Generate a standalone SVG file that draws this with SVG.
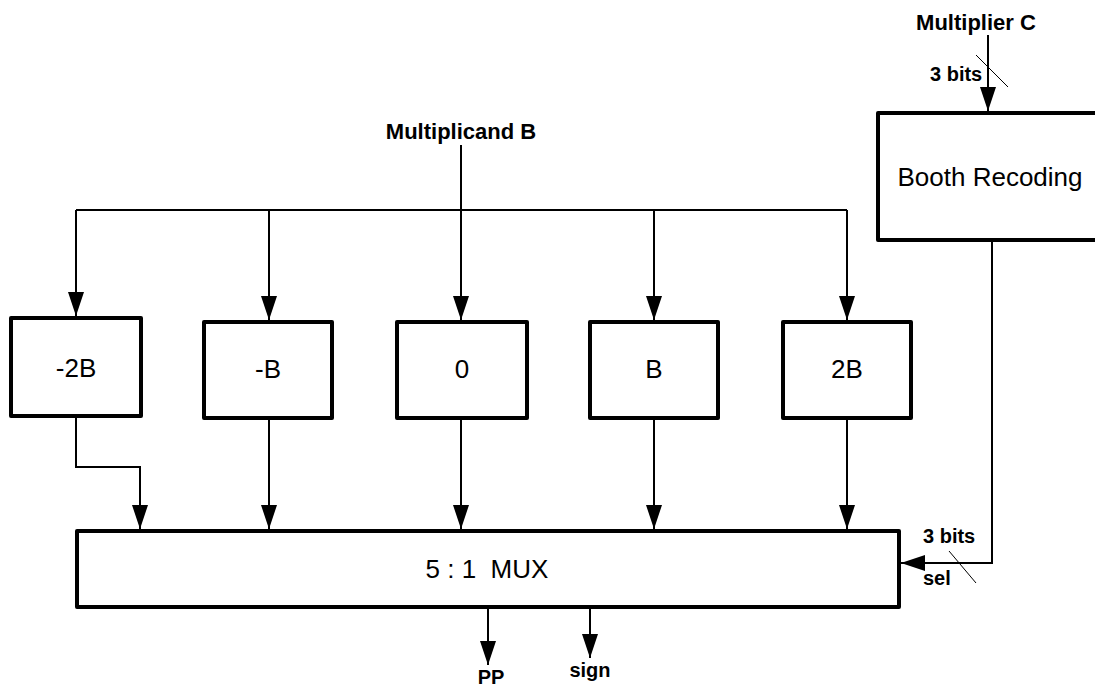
<svg xmlns="http://www.w3.org/2000/svg" width="1095" height="687" viewBox="0 0 1095 687">
<style>
.box{fill:#fff;stroke:#000;stroke-width:4;stroke-linejoin:round}
.wire{fill:none;stroke:#000;stroke-width:2}
.slash{fill:none;stroke:#000;stroke-width:1}
.lbl{font-family:"Liberation Sans",Arial,sans-serif;font-size:26px;fill:#000;text-anchor:middle}
.bold{font-family:"Liberation Sans",Arial,sans-serif;font-size:20px;font-weight:bold;fill:#000}
.title{font-size:22px}
</style>
<defs>
<marker id="arr" markerUnits="userSpaceOnUse" markerWidth="24" markerHeight="16" refX="24" refY="8" orient="auto">
<path d="M0,0 L24,8 L0,16 Z" fill="#000"/>
</marker>
</defs>
<rect width="1095" height="687" fill="#fff"/>
<g id="connectors">
<path class="wire" d="M76,210 H847"/>
<path class="wire" d="M461,145 V320" marker-end="url(#arr)"/>
<path class="wire" d="M76,210 V316" marker-end="url(#arr)"/>
<path class="wire" d="M269,210 V320" marker-end="url(#arr)"/>
<path class="wire" d="M654,210 V320" marker-end="url(#arr)"/>
<path class="wire" d="M847,210 V320" marker-end="url(#arr)"/>
<path class="wire" d="M76,418 V467 H140 V529" marker-end="url(#arr)"/>
<path class="wire" d="M269,420 V529" marker-end="url(#arr)"/>
<path class="wire" d="M461,420 V529" marker-end="url(#arr)"/>
<path class="wire" d="M654,420 V529" marker-end="url(#arr)"/>
<path class="wire" d="M847,420 V529" marker-end="url(#arr)"/>
<path class="wire" d="M988,35 V111" marker-end="url(#arr)"/>
<path class="wire" d="M992,242 V563 H901" marker-end="url(#arr)"/>
<path class="wire" d="M488,609 V665" marker-end="url(#arr)"/>
<path class="wire" d="M590,609 V658" marker-end="url(#arr)"/>
<path class="slash" d="M976,55 L1008,87"/>
<path class="slash" d="M949,551 L976,583"/>
</g>
<g id="multiplicand-b"><text class="bold title" x="461" y="139" text-anchor="middle">Multiplicand B</text></g>
<g id="multiplier-c"><text class="bold title" x="976" y="30" text-anchor="middle">Multiplier C</text></g>
<g id="bits-top"><text class="bold" x="930" y="81">3 bits</text></g>
<g id="bits-sel"><text class="bold" x="923" y="543">3 bits</text><text class="bold" x="923" y="585">sel</text></g>
<g id="booth"><rect class="box" x="878" y="113" width="230" height="127"/><text class="lbl" x="990" y="186">Booth Recoding</text></g>
<g id="neg2b"><rect class="box" x="11" y="318" width="130" height="98"/><text class="lbl" x="76" y="377">-2B</text></g>
<g id="negb"><rect class="box" x="204" y="322" width="128" height="96"/><text class="lbl" x="268" y="378">-B</text></g>
<g id="zero"><rect class="box" x="397" y="322" width="130" height="96"/><text class="lbl" x="462" y="378">0</text></g>
<g id="b"><rect class="box" x="590" y="322" width="128" height="96"/><text class="lbl" x="654" y="378">B</text></g>
<g id="twob"><rect class="box" x="783" y="322" width="128" height="96"/><text class="lbl" x="847" y="378">2B</text></g>
<g id="mux"><rect class="box" x="77" y="531" width="822" height="76"/><text class="lbl" x="487" y="578" xml:space="preserve">5 : 1  MUX</text></g>
<g id="pp"><text class="bold" x="491" y="684" text-anchor="middle">PP</text></g>
<g id="sign"><text class="bold" x="590" y="677" text-anchor="middle">sign</text></g>
</svg>
